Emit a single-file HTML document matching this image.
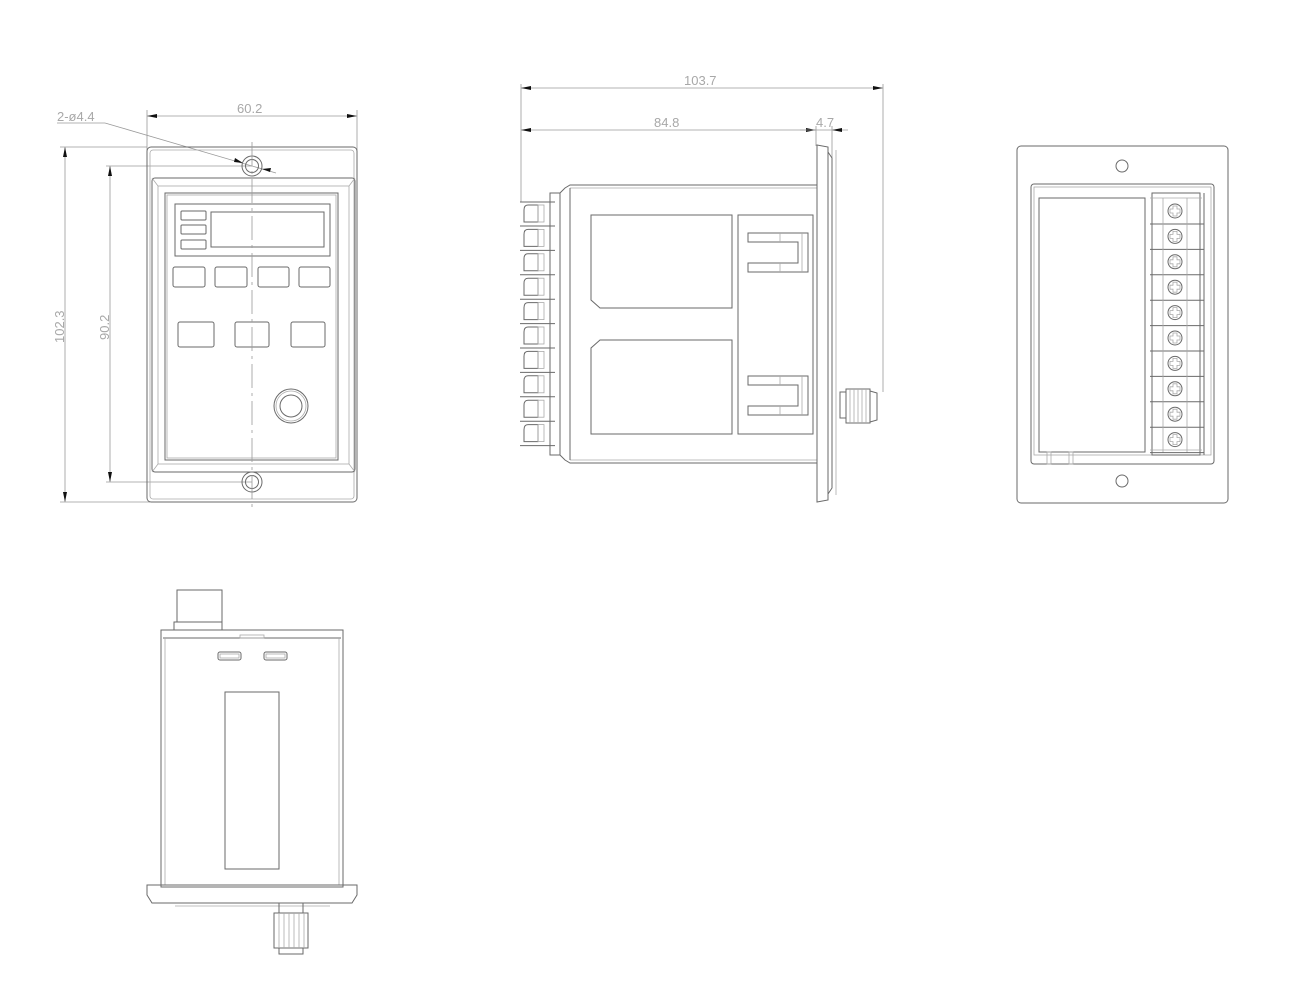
<!DOCTYPE html>
<html><head><meta charset="utf-8"><style>
html,body{margin:0;padding:0;background:#fff;}
svg{display:block;}
text{font-family:"Liberation Sans",sans-serif;fill:#a8a8a8;font-size:13px;}
.l{fill:none;stroke:#6a6a6a;stroke-width:1;}
.t{fill:none;stroke:#aaa;stroke-width:0.8;}
.d{fill:none;stroke:#9a9a9a;stroke-width:0.8;}
.a{fill:#111;stroke:none;}
</style></head><body>
<svg width="1300" height="997" viewBox="0 0 1300 997" xmlns="http://www.w3.org/2000/svg">
<!-- ============ FRONT VIEW ============ -->
<g>
<!-- dims -->
<line class="d" x1="147" y1="116" x2="357" y2="116"/>
<polygon class="a" points="147,116 157,114 157,118"/><polygon class="a" points="357,116 347,114 347,118"/>
<line class="d" x1="147" y1="110" x2="147" y2="150"/><line class="d" x1="357" y1="110" x2="357" y2="150"/>
<text x="237" y="113">60.2</text>
<text x="57" y="121">2-ø4.4</text>
<line class="d" x1="57" y1="123" x2="105" y2="123"/>
<line class="d" x1="105" y1="123" x2="276" y2="173"/>
<polygon class="a" points="243,163 235,158 234,162"/><polygon class="a" points="262,169 270,172 271,168"/>
<line class="d" x1="65" y1="147" x2="65" y2="502"/>
<polygon class="a" points="65,147 63,157 67,157"/><polygon class="a" points="65,502 63,492 67,492"/>
<line class="d" x1="60" y1="147" x2="147" y2="147"/><line class="d" x1="60" y1="502" x2="150" y2="502"/>
<text x="0" y="0" transform="translate(64,343) rotate(-90)">102.3</text>
<line class="d" x1="110" y1="166" x2="110" y2="482"/>
<polygon class="a" points="110,166 108,176 112,176"/><polygon class="a" points="110,482 108,472 112,472"/>
<line class="d" x1="106" y1="166" x2="252" y2="166"/><line class="d" x1="106" y1="482" x2="252" y2="482"/>
<text x="0" y="0" transform="translate(109,340) rotate(-90)">90.2</text>
<!-- plate -->
<rect class="l" x="147" y="147" width="210" height="355" rx="4"/>
<rect class="t" x="150" y="150" width="204" height="349" rx="3"/>
<!-- bezel -->
<rect class="l" x="152" y="178" width="203" height="294" rx="3"/>
<rect class="t" x="158" y="186" width="191" height="278"/>
<line class="t" x1="152" y1="178" x2="158" y2="186"/><line class="t" x1="355" y1="178" x2="349" y2="186"/>
<line class="t" x1="152" y1="472" x2="158" y2="464"/><line class="t" x1="355" y1="472" x2="349" y2="464"/>
<rect class="l" x="165" y="193" width="173" height="267"/>
<rect class="t" x="167" y="195" width="169" height="263"/>
<rect class="l" x="175" y="204" width="155" height="52"/>
<rect class="l" x="181" y="211" width="25" height="9" rx="1"/>
<rect class="l" x="181" y="225" width="25" height="9" rx="1"/>
<rect class="l" x="181" y="240" width="25" height="9" rx="1"/>
<rect class="l" x="211" y="212" width="113" height="35"/>
<rect class="l" x="173" y="267" width="32" height="20" rx="2"/>
<rect class="l" x="215" y="267" width="32" height="20" rx="2"/>
<rect class="l" x="258" y="267" width="31" height="20" rx="2"/>
<rect class="l" x="299" y="267" width="31" height="20" rx="2"/>
<rect class="l" x="178" y="322" width="36" height="25" rx="2"/>
<rect class="l" x="235" y="322" width="34" height="25" rx="2"/>
<rect class="l" x="291" y="322" width="34" height="25" rx="2"/>
<circle class="l" cx="291" cy="406" r="17"/><circle class="t" cx="291" cy="406" r="15"/><circle class="l" cx="291" cy="406" r="11"/>
<circle class="l" cx="252" cy="166" r="10"/><circle class="l" cx="252" cy="166" r="6.5"/>
<circle class="l" cx="252" cy="482" r="10"/><circle class="l" cx="252" cy="482" r="6.5"/>
<line class="d" x1="252" y1="142" x2="252" y2="512" stroke-dasharray="24,5,3,5"/>
</g>

<!-- ============ SIDE VIEW ============ -->
<g>
<line class="d" x1="521" y1="88" x2="883" y2="88"/>
<polygon class="a" points="521,88 531,86 531,90"/><polygon class="a" points="883,88 873,86 873,90"/>
<text x="684" y="85">103.7</text>
<line class="d" x1="521" y1="130" x2="816" y2="130"/>
<polygon class="a" points="521,130 531,128 531,132"/><polygon class="a" points="816,130 806,128 806,132"/>
<line class="d" x1="800" y1="130" x2="848" y2="130"/>
<polygon class="a" points="832,130 842,128 842,132"/>
<text x="654" y="127">84.8</text>
<text x="816" y="127">4.7</text>
<line class="d" x1="521" y1="84" x2="521" y2="202"/>
<line class="d" x1="883" y1="84" x2="883" y2="392"/>
<line class="d" x1="816" y1="126" x2="816" y2="146"/>
<line class="d" x1="832" y1="126" x2="832" y2="160"/>
<!-- body -->
<path class="l" d="M570,185 L817,185 L817,463 L570,463 L565,460 L560,455 L560,193 L565,188 Z"/>
<line class="t" x1="570" y1="188" x2="817" y2="188"/>
<line class="t" x1="570" y1="460" x2="817" y2="460"/>
<line class="l" x1="570" y1="188" x2="570" y2="460"/>
<rect class="l" x="550" y="193" width="10" height="262"/>
<!-- terminals -->
<g id="term">
<path class="l" d="M528,205 Q524,205 524,210 L524,222 L538,222 L538,205 Z"/>
<rect class="t" x="538" y="205" width="6" height="17"/>
<line class="l" x1="520" y1="226" x2="555" y2="226"/>
</g>
<use href="#term" y="24.4"/><use href="#term" y="48.8"/><use href="#term" y="73.2"/><use href="#term" y="97.6"/>
<use href="#term" y="122"/><use href="#term" y="146.4"/><use href="#term" y="170.8"/><use href="#term" y="195.2"/><use href="#term" y="219.6"/>
<line class="l" x1="520" y1="202" x2="555" y2="202"/>
<!-- inner panels -->
<path class="l" d="M591,215 L732,215 L732,308 L600,308 L591,300 Z"/>
<path class="l" d="M600,340 L732,340 L732,434 L591,434 L591,348 Z"/>
<rect class="l" x="738" y="215" width="75" height="219"/>
<g id="u1">
<path class="l" d="M748,233 L808,233 L808,272 L748,272 L748,263 L798,263 L798,242 L748,242 Z"/>
<line class="t" x1="780" y1="233" x2="780" y2="242"/><line class="t" x1="780" y1="263" x2="780" y2="272"/>
<line class="t" x1="802" y1="233" x2="802" y2="272"/>
</g>
<use href="#u1" y="143"/>
<!-- flange -->
<path class="l" d="M817,145 L828,147 L828,500 L817,502 Z"/>
<path class="l" d="M828,152 L832,158 L832,488 L828,494"/>
<line class="t" x1="836" y1="150" x2="836" y2="495"/>
<!-- knob -->
<rect class="l" x="840" y="392" width="6" height="26"/>
<rect class="l" x="846" y="389" width="24" height="34"/>
<path class="l" d="M870,391 L877,393 L877,420 L870,422"/>
<g class="t"><line x1="850" y1="389" x2="850" y2="423"/><line x1="854" y1="389" x2="854" y2="423"/><line x1="858" y1="389" x2="858" y2="423"/><line x1="862" y1="389" x2="862" y2="423"/><line x1="866" y1="389" x2="866" y2="423"/></g>
</g>

<!-- ============ REAR VIEW ============ -->
<g>
<rect class="l" x="1017" y="146" width="211" height="357" rx="4"/>
<circle class="l" cx="1122" cy="166" r="6"/><circle class="l" cx="1122" cy="481" r="6"/>
<rect class="l" x="1031" y="184" width="183" height="280" rx="3"/>
<rect class="t" x="1034" y="187" width="177" height="268"/>
<rect class="l" x="1039" y="198" width="106" height="254"/>
<rect class="l" x="1152" y="193" width="48" height="262"/>
<line class="l" x1="1204" y1="193" x2="1204" y2="455"/>
<line class="t" x1="1150" y1="198" x2="1202" y2="198"/>
<line class="t" x1="1150" y1="450" x2="1202" y2="450"/>
<g id="scr">
<line class="t" x1="1163" y1="198" x2="1163" y2="224"/><line class="t" x1="1187" y1="198" x2="1187" y2="224"/>
<circle class="l" cx="1175" cy="211" r="7"/>
<path class="t" d="M1173,206 h4 v3 h3 v4 h-3 v3 h-4 v-3 h-3 v-4 h3 Z"/>
<line class="l" x1="1150" y1="224" x2="1204" y2="224"/>
</g>
<use href="#scr" y="25.4"/><use href="#scr" y="50.8"/><use href="#scr" y="76.2"/><use href="#scr" y="101.6"/>
<use href="#scr" y="127"/><use href="#scr" y="152.4"/><use href="#scr" y="177.8"/><use href="#scr" y="203.2"/><use href="#scr" y="228.6"/>
<g class="t"><rect x="1047" y="452" width="4" height="12"/><rect x="1069" y="452" width="4" height="12"/></g>
</g>

<!-- ============ BOTTOM VIEW ============ -->
<g>
<rect class="l" x="177" y="590" width="45" height="32"/>
<rect class="l" x="174" y="622" width="48" height="8"/>
<rect class="l" x="161" y="630" width="182" height="257"/>
<line class="l" x1="163" y1="638" x2="341" y2="638"/>
<line class="t" x1="165" y1="638" x2="165" y2="885"/><line class="t" x1="339" y1="638" x2="339" y2="885"/>
<rect class="t" x="240" y="635" width="24" height="3"/>
<rect class="l" x="218" y="652" width="23" height="8" rx="2"/><rect class="t" x="220" y="654" width="19" height="4"/>
<rect class="l" x="264" y="652" width="23" height="8" rx="2"/><rect class="t" x="266" y="654" width="19" height="4"/>
<rect class="l" x="225" y="692" width="54" height="177"/>
<path class="l" d="M147,885 L357,885 L357,895 L352,903 L152,903 L147,895 Z"/>
<line class="t" x1="175" y1="906" x2="330" y2="906"/>
<rect class="l" x="279" y="903" width="24" height="10"/>
<rect class="l" x="274" y="913" width="34" height="35"/>
<rect class="l" x="279" y="948" width="24" height="6"/>
<g class="t"><line x1="279" y1="913" x2="279" y2="948"/><line x1="284" y1="913" x2="284" y2="948"/><line x1="289" y1="913" x2="289" y2="948"/><line x1="294" y1="913" x2="294" y2="948"/><line x1="299" y1="913" x2="299" y2="948"/><line x1="304" y1="913" x2="304" y2="948"/></g>
</g>
</svg>
</body></html>
